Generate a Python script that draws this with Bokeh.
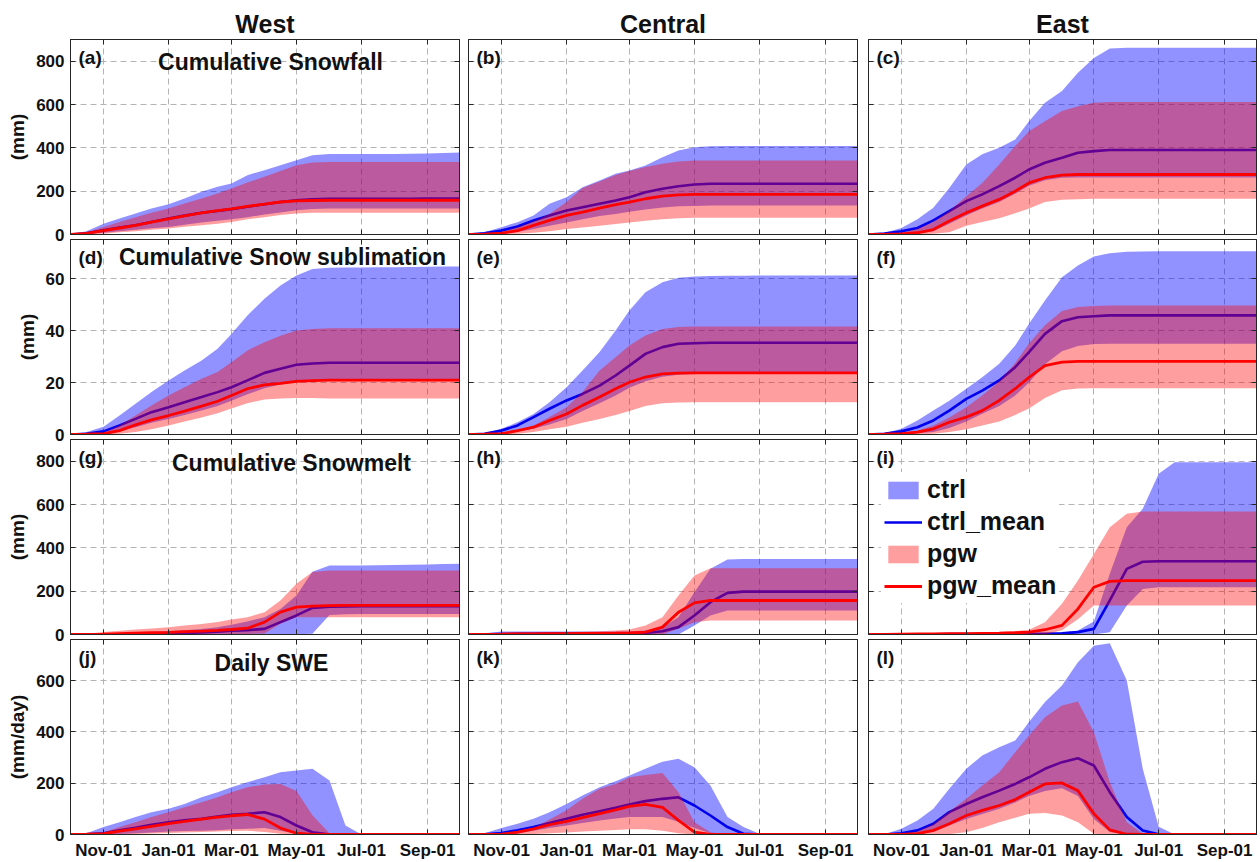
import pandas as pd
from bokeh.plotting import figure
from bokeh.models import (Range1d, FixedTicker, DatetimeTickFormatter, Label,
                          Legend, LegendItem, ColumnDataSource, LinearAxis,
                          DatetimeAxis)
from bokeh.layouts import column, row
from bokeh.embed import file_html
from bokeh.resources import INLINE

# ---------------- data ----------------
DATES = ["2001-10-01", "2001-10-16", "2001-11-01", "2001-11-16", "2001-12-01",
         "2001-12-16", "2002-01-01", "2002-01-16", "2002-02-01", "2002-02-16",
         "2002-03-01", "2002-03-16", "2002-04-01", "2002-04-16", "2002-05-01",
         "2002-05-16", "2002-06-01", "2002-06-16", "2002-07-01", "2002-07-16",
         "2002-08-01", "2002-08-16", "2002-09-01", "2002-09-16", "2002-10-01"]
X_START = "2001-10-01"
X_END = "2002-10-01"
XTICK_DATES = ["2001-11-01", "2002-01-01", "2002-03-01", "2002-05-01",
               "2002-07-01", "2002-09-01"]

REGIONS = ["West", "Central", "East"]
ROW_TITLES = ["Cumulative Snowfall", "Cumulative Snow sublimation",
              "Cumulative Snowmelt", "Daily SWE"]
ROW_UNITS = ["(mm)", "(mm)", "(mm)", "(mm/day)"]
ROW_YMAX = [900, 75, 900, 760]
ROW_YTICKS = [[0, 200, 400, 600, 800], [0, 20, 40, 60],
              [0, 200, 400, 600, 800], [0, 200, 400, 600]]
LETTERS = [["(a)", "(b)", "(c)"], ["(d)", "(e)", "(f)"],
           ["(g)", "(h)", "(i)"], ["(j)", "(k)", "(l)"]]

# (a) West cumulative snowfall
A_CTRL_HI = [0, 15, 50, 74, 97, 120, 140, 166, 197, 220, 235, 274, 297, 320, 343, 366, 371, 371, 372, 372, 372, 373, 374, 376, 378]
A_CTRL_LO = [0, 2, 8, 15, 22, 29, 35, 45, 55, 63, 70, 80, 92, 102, 112, 118, 120, 120, 120, 120, 120, 120, 120, 120, 120]
A_CTRL_MEAN = [0, 6, 20, 32, 43, 58, 74, 87, 100, 109, 117, 128, 140, 150, 158, 162, 165, 165, 165, 165, 165, 165, 166, 166, 166]
A_PGW_HI = [0, 10, 35, 58, 80, 100, 120, 143, 166, 189, 212, 240, 266, 293, 320, 332, 335, 335, 335, 335, 335, 335, 335, 335, 335]
A_PGW_LO = [0, 1, 4, 10, 15, 22, 28, 36, 43, 50, 58, 70, 80, 90, 97, 100, 100, 100, 100, 100, 100, 100, 100, 100, 100]
A_PGW_MEAN = [0, 5, 18, 30, 42, 57, 72, 86, 100, 110, 118, 130, 140, 150, 155, 157, 158, 158, 158, 158, 158, 158, 158, 158, 158]

# (b) Central cumulative snowfall
B_CTRL_HI = [0, 11, 34, 57, 88, 142, 172, 218, 249, 280, 295, 318, 357, 388, 403, 407, 408, 408, 408, 408, 408, 408, 408, 408, 408]
B_CTRL_LO = [0, 1, 3, 12, 25, 40, 55, 70, 85, 95, 105, 115, 125, 130, 132, 134, 134, 134, 134, 134, 134, 134, 134, 134, 134]
B_CTRL_MEAN = [0, 6, 18, 37, 65, 88, 111, 126, 142, 157, 172, 195, 211, 223, 231, 234, 234, 234, 234, 234, 234, 234, 234, 234, 234]
B_PGW_HI = [0, 3, 11, 34, 60, 95, 150, 215, 245, 275, 293, 311, 326, 337, 342, 342, 342, 342, 342, 342, 342, 342, 342, 342, 342]
B_PGW_LO = [0, 0, 1, 4, 8, 15, 25, 32, 40, 48, 55, 63, 70, 75, 77, 77, 77, 77, 77, 77, 77, 77, 77, 77, 77]
B_PGW_MEAN = [0, 2, 6, 18, 42, 65, 88, 103, 122, 138, 149, 165, 177, 183, 185, 185, 185, 185, 185, 185, 185, 185, 185, 185, 185]

# (c) East cumulative snowfall
C_CTRL_HI = [0, 8, 30, 70, 123, 215, 323, 370, 400, 438, 523, 608, 662, 746, 815, 858, 862, 862, 862, 862, 862, 862, 862, 862, 862]
C_CTRL_LO = [0, 0, 2, 5, 15, 50, 88, 120, 150, 188, 225, 250, 262, 263, 263, 263, 263, 263, 263, 263, 263, 263, 263, 263, 263]
C_CTRL_MEAN = [0, 4, 15, 30, 65, 108, 154, 185, 223, 262, 300, 331, 354, 377, 385, 390, 390, 390, 390, 390, 390, 390, 390, 390, 390]
C_PGW_HI = [0, 2, 8, 25, 58, 108, 177, 238, 323, 408, 477, 523, 570, 592, 608, 611, 611, 611, 611, 611, 611, 611, 611, 611, 611]
C_PGW_LO = [0, 0, 0, 1, 3, 10, 40, 58, 75, 98, 120, 150, 160, 163, 165, 165, 165, 165, 165, 165, 165, 165, 165, 165, 165]
C_PGW_MEAN = [0, 1, 3, 8, 23, 62, 100, 131, 162, 200, 238, 262, 274, 277, 277, 277, 277, 277, 277, 277, 277, 277, 277, 277, 277]

# (d) West cumulative snow sublimation
D_CTRL_HI = [0, 1, 3, 7.3, 11.8, 16.3, 20.8, 24.6, 28.5, 33, 38.7, 45.8, 52.2, 57.3, 61.2, 63.7, 64.1, 64.2, 64.2, 64.3, 64.3, 64.4, 64.5, 64.6, 64.6]
D_CTRL_LO = [0, 0, 0.3, 1.3, 2.8, 4.5, 6, 7.5, 9.2, 11, 13, 15.5, 17.8, 19.2, 20.2, 20.8, 21.2, 21.3, 21.3, 21.3, 21.3, 21.3, 21.3, 21.3, 21.3]
D_CTRL_MEAN = [0, 0.3, 1.2, 3.5, 6, 8.6, 10.5, 12.4, 14.4, 16.3, 18.2, 20.8, 23.7, 25.3, 26.8, 27.3, 27.6, 27.6, 27.6, 27.6, 27.6, 27.6, 27.6, 27.6, 27.6]
D_PGW_HI = [0, 0.2, 0.6, 3.5, 7.3, 11.2, 15, 18.2, 21.4, 24, 27.8, 32.3, 35.5, 38, 40, 40.6, 40.9, 40.9, 40.9, 40.9, 40.9, 40.9, 40.9, 40.9, 40.9]
D_PGW_LO = [0, 0, 0, 0.3, 1, 2, 3.5, 5, 6.5, 8.2, 10, 12, 13.5, 13.8, 14, 14, 13.8, 13.8, 13.8, 13.8, 13.8, 13.8, 13.8, 13.8, 13.8]
D_PGW_MEAN = [0, 0.1, 0.3, 1.5, 3.7, 5.6, 7.3, 9, 10.9, 12.8, 15, 17.6, 19.1, 19.7, 20.4, 20.7, 20.9, 20.9, 20.9, 20.9, 20.9, 20.9, 20.9, 20.9, 20.9]

# (e) Central cumulative snow sublimation
E_CTRL_HI = [0, 0.5, 2.2, 4.7, 7.9, 12.4, 18.2, 24.6, 31.7, 40, 47.7, 54.7, 58.6, 60.3, 60.8, 61, 61.1, 61.1, 61.2, 61.2, 61.2, 61.2, 61.2, 61.2, 61.2]
E_CTRL_LO = [0, 0, 0.5, 1.2, 2.2, 3.8, 6, 9, 12, 15, 18, 20.5, 22.2, 23, 23.3, 23.4, 23.4, 23.4, 23.4, 23.4, 23.4, 23.4, 23.4, 23.4, 23.4]
E_CTRL_MEAN = [0, 0.3, 1.5, 3.5, 6.7, 9.9, 13.1, 15.6, 18.8, 22.7, 26.5, 31, 33.6, 34.9, 35.1, 35.3, 35.3, 35.3, 35.3, 35.3, 35.3, 35.3, 35.3, 35.3, 35.3]
E_PGW_HI = [0, 0.1, 0.3, 1.5, 3.5, 6.7, 10.5, 16.3, 24.6, 29.7, 34.2, 38.1, 40.6, 41.3, 41.5, 41.5, 41.5, 41.5, 41.5, 41.5, 41.5, 41.5, 41.5, 41.5, 41.5]
E_PGW_LO = [0, 0, 0, 0.3, 1, 2, 3, 4.5, 6, 7.5, 9, 11, 12, 12.3, 12.4, 12.4, 12.4, 12.4, 12.4, 12.4, 12.4, 12.4, 12.4, 12.4, 12.4]
E_PGW_MEAN = [0, 0.1, 0.3, 1.5, 2.8, 5.4, 7.9, 11.2, 14.4, 17.6, 20.1, 22.1, 23.3, 23.6, 23.7, 23.7, 23.7, 23.7, 23.7, 23.7, 23.7, 23.7, 23.7, 23.7, 23.7]

# (f) East cumulative snow sublimation
F_CTRL_HI = [0, 0.5, 2.2, 5.4, 9.2, 13, 17.6, 22, 27.2, 34.2, 42.6, 51.5, 60.5, 65, 68.5, 69.7, 70.3, 70.4, 70.5, 70.5, 70.5, 70.5, 70.5, 70.5, 70.5]
F_CTRL_LO = [0, 0, 0.2, 0.5, 1, 2.5, 5, 8, 11, 15, 20, 27, 32, 34, 34.8, 34.9, 34.9, 34.9, 34.9, 34.9, 34.9, 34.9, 34.9, 34.9, 34.9]
F_CTRL_MEAN = [0, 0.3, 1.2, 2.8, 5.4, 9.2, 13.7, 16.9, 20.8, 25.9, 31.7, 38.7, 43.6, 45.1, 45.5, 45.8, 45.8, 45.8, 45.8, 45.8, 45.8, 45.8, 45.8, 45.8, 45.8]
F_PGW_HI = [0, 0.2, 0.5, 1.5, 3.5, 6.5, 10.5, 15, 20.5, 27.5, 35, 42, 47.5, 49, 49.4, 49.6, 49.6, 49.6, 49.6, 49.6, 49.6, 49.6, 49.6, 49.6, 49.6]
F_PGW_LO = [0, 0, 0, 0.1, 0.3, 1, 2, 3.5, 5, 7.5, 10, 14, 17, 17.7, 17.8, 17.8, 17.8, 17.8, 17.8, 17.8, 17.8, 17.8, 17.8, 17.8, 17.8]
F_PGW_MEAN = [0, 0.1, 0.3, 0.9, 2.2, 4.7, 6.7, 9.2, 13.1, 17.6, 22, 26.5, 27.8, 28.1, 28.1, 28.1, 28.1, 28.1, 28.1, 28.1, 28.1, 28.1, 28.1, 28.1, 28.1]

# (g) West cumulative snowmelt
G_CTRL_HI = [0, 2, 5, 7, 10, 12, 15, 20, 25, 33, 45, 60, 80, 118, 180, 290, 318, 318, 319, 320, 321, 322, 323, 325, 326]
G_CTRL_LO = [0, 0, 0, 0, 0, 0, 0, 0, 0, 0, 0, 0, 0, 0, 1, 3, 90, 93, 95, 95, 95, 95, 95, 95, 95]
G_CTRL_MEAN = [0, 0, 0.5, 1, 2, 3, 5, 7, 10, 13, 17, 20, 26, 57, 88, 123, 128, 130, 131, 131, 131, 131, 131, 131, 131]
G_PGW_HI = [0, 4, 11, 17, 23, 28, 34, 41, 49, 58, 69, 80, 103, 157, 234, 288, 295, 295, 295, 295, 295, 295, 295, 295, 295]
G_PGW_LO = [0, 0, 0, 0, 0, 0, 0, 0, 0, 0, 1, 2, 5, 50, 80, 80, 80, 80, 80, 80, 80, 80, 80, 80, 80]
G_PGW_MEAN = [0, 1, 2, 4, 6, 8, 10, 13, 16, 19, 23, 29, 57, 103, 126, 131, 133, 134, 134, 134, 134, 134, 134, 134, 134]

# (h) Central cumulative snowmelt
H_CTRL_HI = [0, 5, 14, 14, 14, 14, 14, 14, 14, 14, 14, 18, 34, 80, 195, 303, 346, 348, 349, 349, 349, 349, 349, 349, 349]
H_CTRL_LO = [0, 0, 0, 0, 0, 0, 0, 0, 0, 0, 0, 0, 0, 0, 42, 88, 111, 111, 111, 111, 111, 111, 111, 111, 111]
H_CTRL_MEAN = [0, 1, 2, 3, 3, 4, 4, 5, 5, 5, 6, 7, 15, 34, 88, 149, 192, 198, 198, 198, 198, 198, 198, 198, 198]
H_PGW_HI = [0, 2, 8, 9, 10, 11, 11, 13, 15, 18, 23, 42, 80, 180, 272, 306, 306, 306, 306, 306, 306, 306, 306, 306, 306]
H_PGW_LO = [0, 0, 0, 0, 0, 0, 0, 0, 0, 0, 0, 0, 0, 26, 57, 65, 65, 65, 65, 65, 65, 65, 65, 65, 65]
H_PGW_MEAN = [0, 1, 2, 3, 3, 4, 4, 5, 5, 6, 7, 11, 34, 103, 146, 157, 157, 157, 157, 157, 157, 157, 157, 157, 157]

# (i) East cumulative snowmelt
I_CTRL_HI = [0, 2, 3, 3, 4, 4, 4, 5, 5, 5, 5, 6, 9, 18, 60, 280, 495, 580, 742, 795, 795, 795, 795, 795, 795]
I_CTRL_LO = [0, 0, 0, 0, 0, 0, 0, 0, 0, 0, 0, 0, 0, 0, 0, 10, 134, 210, 218, 218, 218, 218, 218, 218, 218]
I_CTRL_MEAN = [0, 0, 1, 1, 1, 2, 2, 2, 2, 3, 3, 3, 5, 11, 26, 157, 303, 336, 338, 338, 338, 338, 338, 338, 338]
I_PGW_HI = [0, 2, 4, 5, 5, 6, 6, 8, 11, 16, 22, 57, 142, 249, 372, 495, 557, 568, 568, 568, 568, 568, 568, 568, 568]
I_PGW_LO = [0, 0, 0, 0, 0, 0, 0, 0, 0, 0, 0, 0, 20, 70, 134, 134, 134, 134, 134, 134, 134, 134, 134, 134, 134]
I_PGW_MEAN = [0, 1, 2, 3, 3, 4, 4, 5, 6, 8, 11, 22, 42, 118, 218, 245, 249, 249, 249, 249, 249, 249, 249, 249, 249]

# (j) West daily SWE
J_CTRL_HI = [0, 5, 29, 48, 68, 87, 100, 119, 145, 165, 184, 204, 223, 243, 249, 256, 210, 35, 0, 0, 0, 0, 0, 0, 0]
J_CTRL_LO = [0, 0, 0, 2, 5, 8, 12, 14, 15, 17, 20, 22, 25, 15, 3, 0, 0, 0, 0, 0, 0, 0, 0, 0, 0]
J_CTRL_MEAN = [0, 1, 5, 16, 26, 38, 48, 55, 61, 70, 77, 81, 87, 68, 35, 9, 0, 0, 0, 0, 0, 0, 0, 0, 0]
J_PGW_HI = [0, 3, 9, 29, 48, 68, 87, 106, 126, 145, 165, 184, 195, 197, 170, 75, 5, 0, 0, 0, 0, 0, 0, 0, 0]
J_PGW_LO = [0, 0, 0, 1, 2, 4, 6, 8, 10, 12, 14, 15, 10, 3, 0, 0, 0, 0, 0, 0, 0, 0, 0, 0, 0]
J_PGW_MEAN = [0, 1, 3, 13, 22, 32, 42, 51, 60, 68, 73, 78, 60, 25, 5, 0, 0, 0, 0, 0, 0, 0, 0, 0, 0]

# (k) Central daily SWE
K_CTRL_HI = [0, 5, 25, 42, 61, 87, 119, 152, 184, 208, 230, 256, 284, 295, 262, 191, 68, 29, 3, 0, 0, 0, 0, 0, 0]
K_CTRL_LO = [0, 0, 0, 3, 15, 25, 35, 45, 55, 62, 68, 68, 68, 50, 25, 5, 0, 0, 0, 0, 0, 0, 0, 0, 0]
K_CTRL_MEAN = [0, 1, 6, 16, 29, 45, 61, 77, 91, 104, 117, 130, 139, 145, 113, 74, 29, 3, 0, 0, 0, 0, 0, 0, 0]
K_PGW_HI = [0, 1, 4, 12, 25, 58, 95, 139, 178, 197, 223, 232, 240, 165, 48, 9, 0, 0, 0, 0, 0, 0, 0, 0, 0]
K_PGW_LO = [0, 0, 0, 1, 2, 5, 8, 12, 15, 18, 20, 20, 15, 5, 0, 0, 0, 0, 0, 0, 0, 0, 0, 0, 0]
K_PGW_MEAN = [0, 0, 1, 9, 22, 38, 51, 66, 81, 96, 110, 117, 106, 55, 9, 0, 0, 0, 0, 0, 0, 0, 0, 0, 0]

# (l) East daily SWE
L_CTRL_HI = [0, 1, 22, 55, 100, 178, 256, 308, 340, 366, 438, 516, 581, 671, 736, 745, 600, 256, 30, 0, 0, 0, 0, 0, 0]
L_CTRL_LO = [0, 0, 0, 2, 10, 35, 60, 80, 100, 125, 150, 170, 180, 150, 60, 10, 0, 0, 0, 0, 0, 0, 0, 0, 0]
L_CTRL_MEAN = [0, 0, 5, 16, 42, 87, 119, 145, 171, 197, 223, 256, 282, 297, 269, 165, 68, 16, 1, 0, 0, 0, 0, 0, 0]
L_PGW_HI = [0, 0, 3, 12, 40, 90, 139, 191, 243, 321, 386, 457, 503, 518, 399, 204, 48, 3, 0, 0, 0, 0, 0, 0, 0]
L_PGW_LO = [0, 0, 0, 0, 0, 2, 9, 25, 48, 65, 81, 84, 74, 48, 3, 0, 0, 0, 0, 0, 0, 0, 0, 0, 0]
L_PGW_MEAN = [0, 0, 0, 3, 16, 42, 74, 94, 113, 136, 165, 197, 201, 171, 81, 18, 1, 0, 0, 0, 0, 0, 0, 0, 0]

PANELS = [
    [(A_CTRL_LO, A_CTRL_HI, A_CTRL_MEAN, A_PGW_LO, A_PGW_HI, A_PGW_MEAN),
     (B_CTRL_LO, B_CTRL_HI, B_CTRL_MEAN, B_PGW_LO, B_PGW_HI, B_PGW_MEAN),
     (C_CTRL_LO, C_CTRL_HI, C_CTRL_MEAN, C_PGW_LO, C_PGW_HI, C_PGW_MEAN)],
    [(D_CTRL_LO, D_CTRL_HI, D_CTRL_MEAN, D_PGW_LO, D_PGW_HI, D_PGW_MEAN),
     (E_CTRL_LO, E_CTRL_HI, E_CTRL_MEAN, E_PGW_LO, E_PGW_HI, E_PGW_MEAN),
     (F_CTRL_LO, F_CTRL_HI, F_CTRL_MEAN, F_PGW_LO, F_PGW_HI, F_PGW_MEAN)],
    [(G_CTRL_LO, G_CTRL_HI, G_CTRL_MEAN, G_PGW_LO, G_PGW_HI, G_PGW_MEAN),
     (H_CTRL_LO, H_CTRL_HI, H_CTRL_MEAN, H_PGW_LO, H_PGW_HI, H_PGW_MEAN),
     (I_CTRL_LO, I_CTRL_HI, I_CTRL_MEAN, I_PGW_LO, I_PGW_HI, I_PGW_MEAN)],
    [(J_CTRL_LO, J_CTRL_HI, J_CTRL_MEAN, J_PGW_LO, J_PGW_HI, J_PGW_MEAN),
     (K_CTRL_LO, K_CTRL_HI, K_CTRL_MEAN, K_PGW_LO, K_PGW_HI, K_PGW_MEAN),
     (L_CTRL_LO, L_CTRL_HI, L_CTRL_MEAN, L_PGW_LO, L_PGW_HI, L_PGW_MEAN)],
]

# ---------------- style / layout ----------------
FONT = "Liberation Sans"
CTRL_FILL = "#0000ff"
CTRL_ALPHA = 0.43
PGW_FILL = "#ff0000"
PGW_ALPHA = 0.38
CTRL_LINE = "#0000ee"
PGW_LINE = "#ff0000"
GRID_COLOR = "#b4b4b4"
AXIS_COLOR = "#262626"

FRAME_W = [389, 389, 388]
FRAME_H = 195
BORDER_LR = [(70, 5), (4, 6), (5, 4)]
OVERLAP = 12
BORDER_TB = [(39, 2 + OVERLAP), (3, 2 + OVERLAP), (3, 2 + OVERLAP), (3, 28)]
TITLE_POS = [(200, 173), (212, 178), (221, 172), (201, 172)]

x_dates = pd.to_datetime(DATES)
x0 = pd.Timestamp(X_START).to_pydatetime()
x1 = pd.Timestamp(X_END).to_pydatetime()
xticks = [pd.Timestamp(d).value / 1e6 for d in XTICK_DATES]
fmt = "%b-%d"
xformatter = DatetimeTickFormatter(milliseconds=fmt, seconds=fmt, minsec=fmt,
                                   minutes=fmt, hourmin=fmt, hours=fmt,
                                   days=fmt, months=fmt, years=fmt)


def style_axis(ax, show_labels):
    ax.major_tick_in = 5
    ax.major_tick_out = 0
    ax.minor_tick_line_color = None
    ax.axis_line_color = AXIS_COLOR
    ax.major_tick_line_color = AXIS_COLOR
    ax.major_label_text_font = FONT
    ax.major_label_text_font_style = "bold"
    ax.major_label_text_font_size = "17px"
    ax.major_label_text_color = "#111111"
    if show_labels:
        ax.major_label_standoff = 6
    else:
        ax.major_label_standoff = 0
        ax.major_label_text_font_size = "0px"
        ax.major_label_text_alpha = 0


def make_panel(r, c):
    lo_c, hi_c, mean_c, lo_p, hi_p, mean_p = PANELS[r][c]
    bl, br = BORDER_LR[c]
    bt, bb = BORDER_TB[r]
    p = figure(frame_width=FRAME_W[c], frame_height=FRAME_H,
               x_axis_type="datetime",
               x_range=Range1d(x0, x1), y_range=Range1d(0, ROW_YMAX[r]),
               output_backend="svg", toolbar_location=None,
               min_border_left=bl, min_border_right=br,
               min_border_top=bt, min_border_bottom=bb,
               background_fill_color="white", border_fill_color="white",
               border_fill_alpha=0)
    src = ColumnDataSource(dict(x=x_dates, lo_c=lo_c, hi_c=hi_c, mean_c=mean_c,
                                lo_p=lo_p, hi_p=hi_p, mean_p=mean_p))
    r1 = p.varea(x="x", y1="lo_c", y2="hi_c", source=src,
                 fill_color=CTRL_FILL, fill_alpha=CTRL_ALPHA)
    r2 = p.line(x="x", y="mean_c", source=src, line_color=CTRL_LINE, line_width=2.6)
    r3 = p.varea(x="x", y1="lo_p", y2="hi_p", source=src,
                 fill_color=PGW_FILL, fill_alpha=PGW_ALPHA)
    r4 = p.line(x="x", y="mean_p", source=src, line_color=PGW_LINE, line_width=2.8)

    xt = FixedTicker(ticks=xticks)
    yt = FixedTicker(ticks=ROW_YTICKS[r])
    p.xaxis.ticker = xt
    p.yaxis.ticker = yt
    p.xgrid.ticker = xt
    p.ygrid.ticker = yt
    p.xaxis.formatter = xformatter
    for g in (p.xgrid, p.ygrid):
        g.grid_line_color = GRID_COLOR
        g.grid_line_dash = "6 4"
        g.grid_line_width = 1

    show_x = (r == 3)
    show_y = (c == 0)
    for ax in p.xaxis:
        style_axis(ax, show_x)
    for ax in p.yaxis:
        style_axis(ax, show_y)
    if show_y:
        p.yaxis.axis_label = ROW_UNITS[r]
        p.yaxis.axis_label_text_font = FONT
        p.yaxis.axis_label_text_font_style = "bold"
        p.yaxis.axis_label_text_font_size = "19px"
        p.yaxis.axis_label_text_color = "#111111"
        p.yaxis.axis_label_standoff = 5

    # box-style tick marks on the right and top edges (no labels)
    ax_r = LinearAxis(ticker=yt)
    style_axis(ax_r, False)
    p.add_layout(ax_r, "right")
    ax_t = DatetimeAxis(ticker=xt, formatter=xformatter)
    style_axis(ax_t, False)
    p.add_layout(ax_t, "above")

    p.outline_line_color = AXIS_COLOR
    p.outline_line_width = 1

    if r == 0:
        p.title.text = REGIONS[c]
        p.title.align = "center"
        p.title.text_font = FONT
        p.title.text_font_style = "bold"
        p.title.text_font_size = "25px"
        p.title.text_color = "#111111"
        p.title.standoff = 3

    p.add_layout(Label(x=8, y=177, x_units="screen", y_units="screen",
                       text=LETTERS[r][c], text_font=FONT, text_font_style="bold",
                       text_font_size="19px", text_baseline="middle",
                       text_align="left", text_color="#111111"))
    if c == 0:
        tx, ty = TITLE_POS[r]
        p.add_layout(Label(x=tx, y=ty, x_units="screen", y_units="screen",
                           text=ROW_TITLES[r], text_font=FONT,
                           text_font_style="bold", text_font_size="23px",
                           text_baseline="middle", text_align="center",
                           text_color="#111111"))
    if r == 2 and c == 2:
        legend = Legend(items=[LegendItem(label="ctrl", renderers=[r1]),
                               LegendItem(label="ctrl_mean", renderers=[r2]),
                               LegendItem(label="pgw", renderers=[r3]),
                               LegendItem(label="pgw_mean", renderers=[r4])],
                        location=(13, 31), glyph_width=38, glyph_height=22,
                        label_text_font=FONT, label_text_font_style="bold",
                        label_text_font_size="25px", label_text_color="#111111",
                        label_standoff=5, spacing=3, padding=3, margin=0,
                        border_line_alpha=0, background_fill_color="white",
                        background_fill_alpha=1)
        p.add_layout(legend)
    return p


rows = []
for r in range(4):
    m = (0, 0, 0, 0) if r == 0 else (-OVERLAP, 0, 0, 0)
    rows.append(row(*[make_panel(r, c) for c in range(3)], spacing=0, margin=m))
layout = column(*rows, spacing=0)

open("out.html", "w").write(file_html(layout, INLINE))
